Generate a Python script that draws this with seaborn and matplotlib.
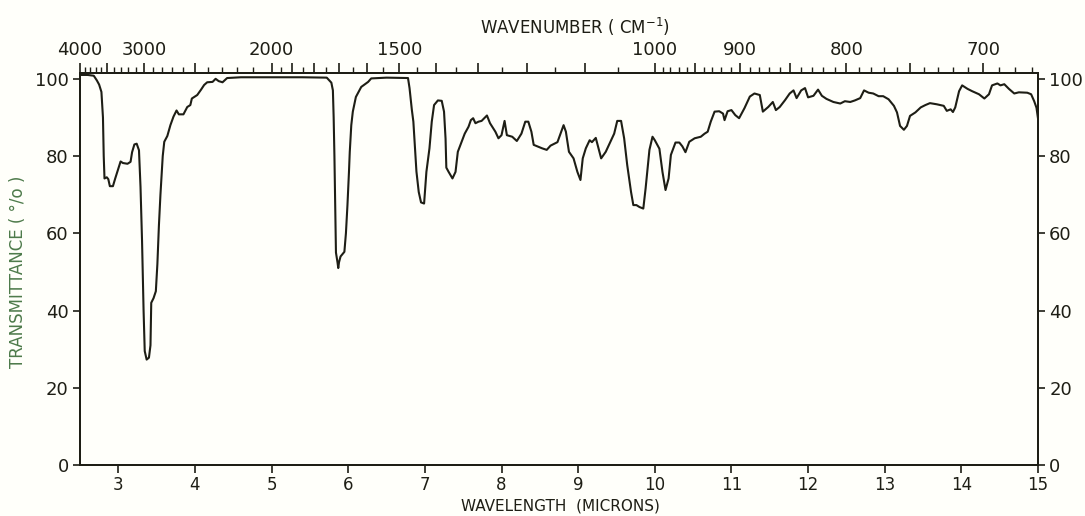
import matplotlib
matplotlib.use('Agg')
import matplotlib.pyplot as plt
import pandas as pd
import seaborn as sns

# IR spectrum (wavelength in microns, % transmittance)
wavelength = [
    2.50, 2.60, 2.68, 2.72, 2.75, 2.78, 2.80, 2.81, 2.82, 2.85, 2.87, 2.89, 2.93, 2.96,
    3.00, 3.03, 3.06, 3.12, 3.16, 3.18, 3.21, 3.24, 3.27, 3.29, 3.31, 3.33, 3.345, 3.37,
    3.40, 3.42, 3.43, 3.46, 3.49, 3.51, 3.53, 3.55, 3.58, 3.60, 3.64, 3.68, 3.72, 3.76,
    3.79, 3.85, 3.90, 3.94, 3.96, 4.03, 4.08, 4.12, 4.16, 4.23, 4.27, 4.31, 4.36, 4.42,
    4.60, 5.00, 5.40, 5.72, 5.78, 5.80, 5.81, 5.82, 5.83, 5.84, 5.86, 5.87, 5.88, 5.90,
    5.95, 5.97, 5.99, 6.01, 6.02, 6.04, 6.06, 6.10, 6.17, 6.26, 6.30, 6.50, 6.78, 6.80,
    6.83, 6.85, 6.89, 6.92, 6.95, 6.99, 7.02, 7.06, 7.09, 7.12, 7.17, 7.22, 7.25, 7.27,
    7.28, 7.31, 7.36, 7.40, 7.43, 7.47, 7.52, 7.57, 7.60, 7.63, 7.66, 7.70, 7.74, 7.81,
    7.85, 7.92, 7.96, 8.00, 8.04, 8.07, 8.14, 8.20, 8.26, 8.31, 8.35, 8.39, 8.42, 8.48,
    8.53, 8.59, 8.64, 8.73, 8.77, 8.81, 8.84, 8.88, 8.94, 8.99, 9.03, 9.06, 9.10, 9.15,
    9.18, 9.23, 9.26, 9.30, 9.36, 9.42, 9.47, 9.51, 9.56, 9.60, 9.64, 9.69, 9.72, 9.76,
    9.80, 9.85, 9.88, 9.93, 9.97, 10.00, 10.06, 10.10, 10.14, 10.18, 10.21, 10.27, 10.32,
    10.36, 10.40, 10.45, 10.52, 10.60, 10.65, 10.69, 10.73, 10.78, 10.84, 10.89, 10.91,
    10.95, 11.00, 11.05, 11.10, 11.17, 11.24, 11.30, 11.37, 11.41, 11.48, 11.54, 11.58,
    11.63, 11.70, 11.76, 11.81, 11.85, 11.91, 11.96, 12.00, 12.07, 12.13, 12.18, 12.24,
    12.33, 12.42, 12.48, 12.55, 12.61, 12.68, 12.73, 12.79, 12.85, 12.92, 12.98, 13.05,
    13.12, 13.16, 13.20, 13.25, 13.29, 13.33, 13.40, 13.47, 13.53, 13.59, 13.68, 13.77,
    13.81, 13.86, 13.89, 13.92, 13.97, 14.01, 14.08, 14.14, 14.23, 14.30, 14.36, 14.40,
    14.47, 14.51, 14.56, 14.62, 14.69, 14.75, 14.86, 14.91, 14.95, 14.98, 15.00,
]
transmittance = [
    101.0, 101.0, 100.8, 99.6, 98.5, 96.6, 90.0, 80.0, 74.2, 74.5, 74.0, 72.2, 72.2, 74.2,
    76.7, 78.6, 78.2, 78.0, 78.5, 81.0, 83.0, 83.2, 81.5, 72.0, 58.0, 40.0, 29.5, 27.3,
    27.8, 31.0, 42.0, 43.2, 45.0, 52.0, 62.0, 70.0, 80.0, 83.7, 85.2, 88.0, 90.2, 91.8,
    90.8, 90.8, 92.7, 93.2, 94.9, 95.8, 97.2, 98.4, 99.1, 99.2, 100.0, 99.4, 99.1, 100.2,
    100.4, 100.4, 100.4, 100.3, 99.0, 97.0, 90.0, 80.0, 67.0, 55.0, 52.5, 51.0, 52.5, 54.0,
    55.2, 60.0, 67.3, 76.0, 81.0, 88.0, 91.5, 95.3, 97.9, 99.2, 100.1, 100.3, 100.2, 97.6,
    92.0, 88.9, 76.0, 70.7, 68.0, 67.7, 75.9, 82.0, 88.9, 93.2, 94.4, 94.3, 91.5, 84.5,
    77.0, 75.9, 74.2, 75.9, 81.1, 83.2, 85.8, 87.6, 89.3, 89.8, 88.5, 88.9, 89.1, 90.5,
    88.5, 86.3, 84.6, 85.4, 89.1, 85.4, 85.0, 83.9, 85.8, 88.9, 88.9, 86.3, 82.9, 82.4,
    82.0, 81.6, 82.7, 83.6, 85.8, 88.0, 86.3, 81.1, 79.4, 75.9, 73.8, 79.4, 82.0, 84.1,
    83.6, 84.7, 82.4, 79.4, 81.1, 83.7, 85.8, 89.1, 89.1, 84.6, 77.7, 70.7, 67.3, 67.3,
    66.8, 66.4, 71.6, 81.6, 85.0, 84.1, 81.9, 75.9, 71.2, 74.2, 80.3, 83.5, 83.5,
    82.5, 81.0, 83.7, 84.6, 85.0, 85.8, 86.3, 88.9, 91.5, 91.6, 91.0, 89.3,
    91.6, 91.9, 90.6, 89.8, 92.4, 95.4, 96.2, 95.8, 91.5, 92.7, 94.0, 91.9,
    92.7, 94.5, 96.2, 97.0, 95.0, 97.0, 97.6, 95.2, 95.6, 97.2, 95.6, 94.8,
    94.0, 93.6, 94.2, 94.0, 94.4, 95.0, 97.0, 96.4, 96.2, 95.5, 95.5, 94.7,
    93.0, 91.3, 87.8, 86.8, 87.8, 90.4, 91.3, 92.6, 93.2, 93.7, 93.4, 93.0,
    91.7, 92.1, 91.4, 92.6, 96.8, 98.3, 97.4, 96.8, 96.0, 94.9, 96.0, 98.3,
    98.8, 98.3, 98.6, 97.4, 96.2, 96.5, 96.4, 96.0, 94.2, 92.5, 89.7,
]

y_ticks = [0, 20, 40, 60, 80, 100]
x_ticks = list(range(3, 16))
wn_labelled = [4000, 3000, 2000, 1500, 1000, 900, 800, 700]
wn_long = [4000, 3500, 3000, 2500, 2000, 1900, 1800, 1700, 1600, 1500, 1400, 1300,
           1200, 1100, 1000, 950, 900, 850, 800, 750, 700]
wn_short = ([w for w in range(4000, 2000, -100) if w not in wn_long]
            + [w for w in range(2000, 1000, -50) if w not in wn_long]
            + [w for w in range(1000, 660, -10) if w not in wn_long])

df = pd.DataFrame({'wavelength': wavelength, 'transmittance': transmittance})

sns.set_theme(style='ticks')
plt.rcParams['font.family'] = ['DejaVu Sans']

paper = '#fffffa'
ink = '#1e1e15'
green = '#4d7a4a'

fig = plt.figure(figsize=(10.85, 5.16), dpi=100, facecolor=paper)
ax = fig.add_axes([0.0737, 0.0988, 0.883, 0.7597])
ax.set_facecolor(paper)

sns.lineplot(data=df, x='wavelength', y='transmittance', sort=False, estimator=None,
             color=ink, linewidth=1.5, ax=ax)

ax.set_xlim(2.5, 15)
ax.set_ylim(0, 101.5)
ax.set_xticks(x_ticks)
ax.set_yticks(y_ticks)
ax.set_xlabel('')
ax.set_ylabel('')
ax.tick_params(axis='x', direction='out', length=6, width=1.2, color=ink,
               labelsize=12, labelcolor=ink, pad=2)
ax.tick_params(axis='y', direction='out', length=5, width=1.2, color=ink,
               labelsize=13, labelcolor=ink, pad=3, right=True, labelright=True)
for s in ax.spines.values():
    s.set_visible(True)
    s.set_color(ink)
    s.set_linewidth(1.4)

# wavenumber scale along the top
ax2 = ax.twiny()
ax2.set_xlim(ax.get_xlim())
ax2.set_xticks([10000 / w for w in wn_long])
ax2.set_xticklabels([str(w) if w in wn_labelled else '' for w in wn_long])
ax2.set_xticks([10000 / w for w in wn_short], minor=True)
ax2.tick_params(axis='x', which='major', direction='out', length=7, width=1.2,
                color=ink, labelsize=13, labelcolor=ink, pad=3)
ax2.tick_params(axis='x', which='minor', direction='out', length=4, width=1.0, color=ink)
for s in ax2.spines.values():
    s.set_color(ink)
    s.set_linewidth(1.4)

fig.text(575 / 1085, 1 - 27 / 516, 'WAVENUMBER ( CM$^{-1}$)', ha='center', va='center',
         fontsize=12, color=ink)
fig.text(560 / 1085, 1 - 506 / 516, 'WAVELENGTH  (MICRONS)', ha='center', va='center',
         fontsize=11, color=ink)
fig.text(18 / 1085, 1 - 272 / 516, 'TRANSMITTANCE ( °/o )', ha='center', va='center',
         rotation=90, fontsize=12, color=green)

fig.savefig('out.png', dpi=100, facecolor=paper)
